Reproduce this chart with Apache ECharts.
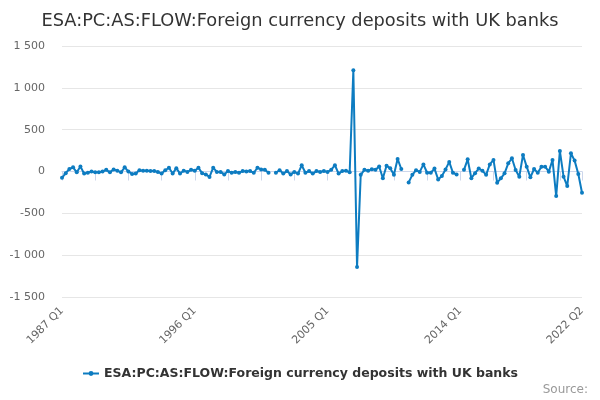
<!DOCTYPE html>
<html>
<head>
<meta charset="utf-8">
<script src="https://cdn.jsdelivr.net/npm/echarts@6/dist/echarts.min.js"></script>
<style>
  html, body { margin: 0; padding: 0; background: #fff; }
  #main { width: 600px; height: 400px; }
</style>
</head>
<body>
<div id="main"></div>
<script>
// quarters 1987 Q1 .. 2022 Q2
var quarters = [];
for (var y = 1987; y <= 2022; y++) {
    for (var q = 1; q <= 4; q++) {
        if (y === 2022 && q > 2) break;
        quarters.push(y + ' Q' + q);
    }
}

// values (£ million), null = no data
var flowValues = [
    -75, -20, 30, 50, -10, 60, -25, -15, 0, -10,
    -10, 0, 20, -10, 25, 10, -10, 50, 0, -30,
    -25, 15, 10, 10, 5, 5, -5, -25, 15, 45,
    -25, 40, -25, 10, -5, 20, 10, 45, -20, -35,
    -65, 45, -5, -5, -35, 5, -15, -5, -15, 5,
    0, 5, -15, 45, 25, 20, -15, null, -15, 15,
    -25, 5, -35, -5, -25, 75, -15, 5, -25, 5,
    -5, 5, -5, 20, 75, -25, 5, 10, -10, 1210,
    -1140, -40, 20, 8, 28, 20, 60, -80, 68, 40,
    -40, 150, 30, null, -130, -40, 15, -5, 85, -15,
    -15, 35, -95, -55, 25, 115, -15, -35, null, 20,
    145, -80, -20, 35, 10, -40, 85, 138, -134, -82,
    -22, 98, 158, 18, -62, 198, 58, -70, 30, -14,
    58, 58, -2, 138, -294, 246, -62, -174, 218, 130,
    -30, -254
];

var seriesName = 'ESA:PC:AS:FLOW:Foreign currency deposits with UK banks';
var lastIdx = quarters.length - 1;

var myChart = echarts.init(document.getElementById('main'));

var option = {
    animation: false,
    textStyle: { fontFamily: 'DejaVu Sans' },
    title: {
        text: seriesName,
        left: 'center',
        top: 7,
        textStyle: { fontSize: 17.8, fontWeight: 'normal', color: '#333333' }
    },
    legend: {
        data: [seriesName],
        bottom: 15,
        left: 'center',
        itemWidth: 16,
        itemHeight: 6,
        itemGap: 5,
        textStyle: { fontSize: 12.5, fontWeight: 'bold', color: '#333333' }
    },
    graphic: [{
        type: 'text',
        right: 12,
        bottom: 4,
        style: { text: 'Source:', fontSize: 12, fill: '#999999', fontFamily: 'DejaVu Sans' }
    }],
    grid: { left: 62, right: 18, top: 46, bottom: 103 },
    xAxis: {
        type: 'category',
        data: quarters,
        boundaryGap: false,
        axisLine: { lineStyle: { color: '#ccd6eb' } },
        axisTick: {
            length: 9,
            lineStyle: { color: '#ccd6eb' },
            interval: function (idx) { return idx % 9 === 0 || idx === lastIdx; }
        },
        axisLabel: {
            rotate: 45,
            color: '#666666',
            fontSize: 11,
            margin: 12,
            interval: function (idx) { return idx % 36 === 0 || idx === lastIdx; }
        },
        splitLine: { show: false }
    },
    yAxis: {
        type: 'value',
        min: -1500,
        max: 1500,
        interval: 500,
        axisLine: { show: false },
        axisTick: { show: false },
        axisLabel: {
            color: '#666666',
            fontSize: 11,
            margin: 17,
            formatter: function (v) {
                return String(v).replace(/\B(?=(\d{3})+(?!\d))/g, ' ');
            }
        },
        splitLine: { lineStyle: { color: '#e6e6e6' } }
    },
    series: [{
        name: seriesName,
        type: 'line',
        data: flowValues,
        connectNulls: false,
        symbol: 'circle',
        symbolSize: 4,
        showSymbol: true,
        showAllSymbol: true,
        itemStyle: { color: '#0d7cc1' },
        lineStyle: { width: 2, color: '#0d7cc1' }
    }]
};

myChart.setOption(option);
</script>
</body>
</html>
